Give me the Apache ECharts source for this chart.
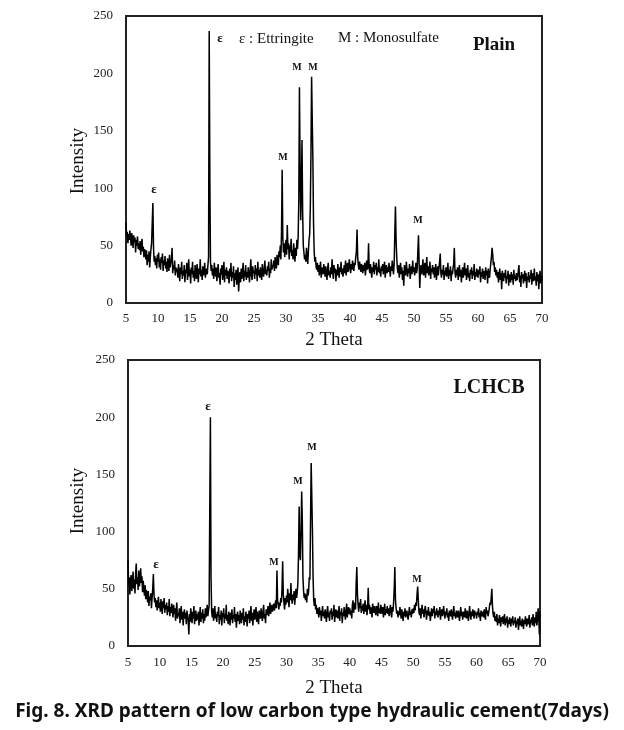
<!DOCTYPE html>
<html>
<head>
<meta charset="utf-8">
<script src="https://cdn.jsdelivr.net/npm/echarts@6/dist/echarts.min.js"></script>
<style>
html,body{margin:0;padding:0;background:#fff;}
#chart{width:624px;height:730px;}
</style>
</head>
<body>
<div id="chart"></div>
<script>
// 2-theta sampling grid (degrees)
var thetaStart = 5.0;
var thetaStep = 0.1;

// x axis tick labels / y axis ticks
var xTicks = [5,10,15,20,25,30,35,40,45,50,55,60,65,70];
var yTicks = [0,50,100,150,200,250];

// Plain: intensity values, one row per degree starting at 5.0
var plainIntensity = [
70,58,62,52,60,55,63,57,50,61,
56,48,59,53,57,44,55,50,58,47,
52,46,54,42,50,56,45,49,40,47,
44,38,46,33,42,36,45,31,40,47,
52,70,87,48,36,41,33,39,30,42,
36,44,31,38,29,40,35,43,28,37,
33,41,30,36,27,39,34,28,42,31,
35,38,48,26,33,29,37,24,31,27,
30,22,34,26,19,31,25,36,21,28,
24,33,18,29,26,35,20,27,38,23,
29,17,31,25,36,22,28,19,33,26,
21,34,27,18,30,25,38,23,29,20,
32,24,28,35,22,27,30,25,33,40,
237,110,36,28,33,24,30,21,35,27,
23,31,19,28,34,22,26,16,30,25,
33,20,27,36,18,29,24,31,21,28,
25,17,30,23,35,19,27,22,32,14,
26,20,29,16,24,31,10,22,27,18,
30,21,26,35,19,28,23,33,20,27,
22,31,25,18,29,38,24,20,32,26,
28,21,33,25,30,19,36,24,29,22,
31,26,20,34,27,23,30,37,25,29,
24,32,28,36,22,30,26,38,29,33,
31,37,28,40,34,30,42,36,33,45,
40,50,38,62,116,58,44,52,40,48,
55,42,68,47,52,38,50,44,56,41,
46,38,52,43,36,48,41,55,47,58,
90,188,122,72,100,142,80,50,44,38,
42,36,48,40,34,45,55,60,84,130,
197,160,125,70,45,36,40,32,29,35,
27,33,24,30,36,22,28,31,25,34,
29,23,32,26,20,30,35,24,28,22,
31,25,38,27,21,33,26,30,19,29,
24,34,28,22,31,27,36,25,30,23,
28,33,26,37,24,30,35,27,32,38,
30,26,34,29,37,31,28,35,33,40,
45,64,40,33,29,36,31,27,34,30,
26,33,28,35,24,30,37,29,32,52,
30,26,34,28,22,31,27,36,25,33,
29,35,24,31,27,38,26,30,23,32,
28,34,25,30,36,22,29,33,26,31,
27,35,29,23,32,28,37,30,25,34,
60,84,55,40,30,26,33,22,29,35,
25,31,20,28,15,33,27,24,36,29,
23,30,26,34,21,28,32,25,37,27,
31,24,29,35,26,30,45,59,35,13,
28,33,25,30,38,24,27,35,22,31,
40,26,32,24,29,36,21,30,27,33,
25,31,22,28,34,20,27,32,24,30,
36,43,26,22,29,25,33,20,28,24,
31,23,27,35,21,29,24,32,19,28,
25,30,34,48,27,22,29,24,31,20,
27,33,23,29,18,26,31,22,28,35,
24,30,20,27,33,22,26,19,29,25,
31,21,28,24,34,20,27,23,30,26,
22,29,25,32,18,27,23,30,21,28,
26,20,31,24,28,17,30,25,22,29,
35,40,48,42,33,36,27,31,24,29,
22,27,18,25,30,20,26,12,28,23,
19,26,22,29,17,24,21,28,15,25,
22,18,27,20,25,16,29,21,24,19,
26,20,23,28,33,18,24,14,27,21,
25,17,22,28,19,26,13,23,20,27,
18,24,21,29,16,22,26,19,30,20,
23,15,27,19,25,12,22,28,17,24,
20
];

// LCHCB: intensity values, one row per degree starting at 5.0
var lchcbIntensity = [
75,52,60,45,57,62,48,55,65,50,
58,46,63,72,54,60,49,66,52,58,
68,55,61,47,57,50,44,53,41,49,
45,38,48,35,43,40,46,33,42,50,
63,45,38,42,34,40,31,37,43,33,
38,30,41,35,28,39,33,42,29,36,
32,38,27,35,30,41,26,34,29,37,
31,25,36,28,33,22,30,38,24,29,
26,33,20,28,35,23,30,18,27,32,
24,29,19,31,26,22,10,28,21,33,
27,20,30,24,35,19,26,31,22,28,
23,30,18,27,34,21,29,24,32,20,
28,22,33,25,30,36,26,31,35,120,
200,60,30,25,33,22,29,35,24,28,
21,30,26,34,19,27,23,31,18,29,
25,33,20,28,24,36,22,27,19,30,
26,18,29,23,32,20,27,24,34,21,
28,16,25,30,22,27,19,31,24,20,
29,23,33,18,26,21,30,25,17,28,
24,31,20,27,35,22,29,18,26,32,
23,28,34,21,30,25,19,31,27,24,
33,26,22,30,36,24,28,20,32,27,
30,35,26,33,38,28,32,36,30,34,
37,31,35,40,33,66,40,36,32,38,
35,42,38,50,74,45,38,32,42,36,
44,38,50,41,34,46,40,55,42,37,
45,40,48,36,43,50,42,47,55,80,
122,80,75,100,135,110,60,48,42,46,
40,45,38,50,44,48,60,58,110,160,
130,100,60,40,35,42,32,36,28,33,
30,25,34,27,31,22,29,35,26,30,
24,32,27,21,30,35,25,29,22,31,
28,33,23,30,26,36,21,29,32,25,
31,24,28,35,22,30,27,33,20,29,
26,34,29,23,31,37,25,30,34,28,
33,27,31,24,36,40,29,35,38,32,
55,69,45,36,30,38,33,41,29,35,
31,37,28,34,40,30,36,27,33,51,
32,36,28,34,30,25,37,31,29,35,
30,27,35,32,26,38,29,33,28,36,
31,28,34,25,30,37,27,32,29,35,
28,33,26,31,36,29,25,34,30,38,
50,69,40,33,28,31,25,30,27,34,
29,24,32,27,22,30,26,33,25,28,
31,26,23,29,34,27,30,25,32,28,
33,29,36,31,38,35,45,52,40,30,
27,33,24,30,36,28,32,25,31,35,
29,23,31,27,34,26,30,22,28,33,
26,32,29,35,24,30,27,33,28,25,
31,27,34,23,29,32,26,30,35,28,
24,30,27,33,25,29,22,31,28,26,
32,27,23,30,35,26,29,24,31,28,
25,31,28,22,29,34,26,30,23,28,
30,25,33,27,24,31,28,22,29,35,
27,23,30,26,32,28,24,31,27,29,
24,30,27,33,25,29,22,31,28,26,
30,25,32,27,23,34,28,31,26,29,
33,38,36,42,50,35,28,25,30,22,
26,21,28,18,24,20,27,22,17,25,
21,26,19,23,28,18,24,20,26,16,
23,19,25,21,17,24,20,26,18,22,
20,25,16,22,19,24,14,21,26,18,
22,17,24,20,15,23,19,26,21,17,
24,19,22,27,16,23,20,25,18,28,
21,17,25,20,30,18,23,33,26,10,
30
];

// Texts
var panelNames = ['Plain', 'LCHCB'];
var legendEttringite = '\u03b5 : Ettringite';
var legendMonosulfate = 'M : Monosulfate';
var xAxisTitle = '2 Theta';
var yAxisTitle = 'Intensity';
var caption = 'Fig. 8. XRD pattern of low carbon type hydraulic cement(7days)';

function toPairs(arr) {
  return arr.map(function (v, i) {
    return [Math.round((thetaStart + i * thetaStep) * 10) / 10, v];
  });
}

var chart = echarts.init(document.getElementById('chart'), null, {renderer: 'canvas'});

var serif = '"Liberation Serif", "Times New Roman", serif';

function xAx(gi) {
  return {
    type: 'value', gridIndex: gi, min: xTicks[0], max: xTicks[xTicks.length - 1], interval: 5,
    axisLine: {show: false}, axisTick: {show: false}, splitLine: {show: false},
    axisLabel: {color: '#222', fontFamily: serif, fontSize: 13, margin: gi === 0 ? 9 : 10}
  };
}
function yAx(gi) {
  return {
    type: 'value', gridIndex: gi, min: yTicks[0], max: yTicks[yTicks.length - 1], interval: 50,
    axisLine: {show: false}, axisTick: {show: false}, splitLine: {show: false},
    axisLabel: {color: '#222', fontFamily: serif, fontSize: 13, margin: 13}
  };
}

function txt(x, y, text, size, bold, extra) {
  var st = {
    text: text, fill: '#111', font: (bold ? 'bold ' : '') + size + 'px ' + serif,
    textAlign: 'center', textVerticalAlign: 'middle'
  };
  if (extra) { for (var k in extra) st[k] = extra[k]; }
  return {type: 'text', x: x, y: y, style: st, z: 10};
}

var graphics = [
  // top panel
  txt(334, 340, xAxisTitle, 19, false),
  {type: 'text', x: 78, y: 161, rotation: Math.PI / 2,
   style: {text: yAxisTitle, fill: '#111', font: '19px ' + serif, textAlign: 'center', textVerticalAlign: 'middle'}},
  txt(494, 45, panelNames[0], 19, true),
  txt(220, 39, '\u03b5', 13, true),
  txt(239, 39, legendEttringite, 15, false, {textAlign: 'left'}),
  txt(338, 38, legendMonosulfate, 15, false, {textAlign: 'left'}),
  txt(154, 190, '\u03b5', 13, true),
  txt(283, 157, 'M', 10, true),
  txt(297, 67, 'M', 10, true),
  txt(313, 67, 'M', 10, true),
  txt(418, 220, 'M', 10, true),
  // bottom panel
  txt(334, 688, xAxisTitle, 19, false),
  {type: 'text', x: 78, y: 501, rotation: Math.PI / 2,
   style: {text: yAxisTitle, fill: '#111', font: '19px ' + serif, textAlign: 'center', textVerticalAlign: 'middle'}},
  txt(489, 388, panelNames[1], 20, true),
  txt(156, 565, '\u03b5', 13, true),
  txt(208, 407, '\u03b5', 13, true),
  txt(274, 562, 'M', 10, true),
  txt(298, 481, 'M', 10, true),
  txt(312, 447, 'M', 10, true),
  txt(417, 579, 'M', 10, true),
  // caption
  {type: 'text', x: 312, y: 712, style: {text: caption, fill: '#111',
    font: 'bold 19px "Noto Sans", sans-serif', textAlign: 'center', textVerticalAlign: 'middle'}}
];

var option = {
  backgroundColor: '#fff',
  animation: false,
  grid: [
    {left: 126, top: 16, width: 416, height: 287, show: true, borderColor: '#222', borderWidth: 2, backgroundColor: 'transparent'},
    {left: 128, top: 360, width: 412, height: 286, show: true, borderColor: '#222', borderWidth: 2, backgroundColor: 'transparent'}
  ],
  xAxis: [xAx(0), xAx(1)],
  yAxis: [yAx(0), yAx(1)],
  series: [
    {type: 'line', xAxisIndex: 0, yAxisIndex: 0, data: toPairs(plainIntensity), showSymbol: false,
     lineStyle: {color: '#000', width: 1.5}, itemStyle: {color: '#000'}, sampling: null, silent: true},
    {type: 'line', xAxisIndex: 1, yAxisIndex: 1, data: toPairs(lchcbIntensity), showSymbol: false,
     lineStyle: {color: '#000', width: 1.5}, itemStyle: {color: '#000'}, sampling: null, silent: true}
  ],
  graphic: graphics
};
chart.setOption(option);
</script>
</body>
</html>
